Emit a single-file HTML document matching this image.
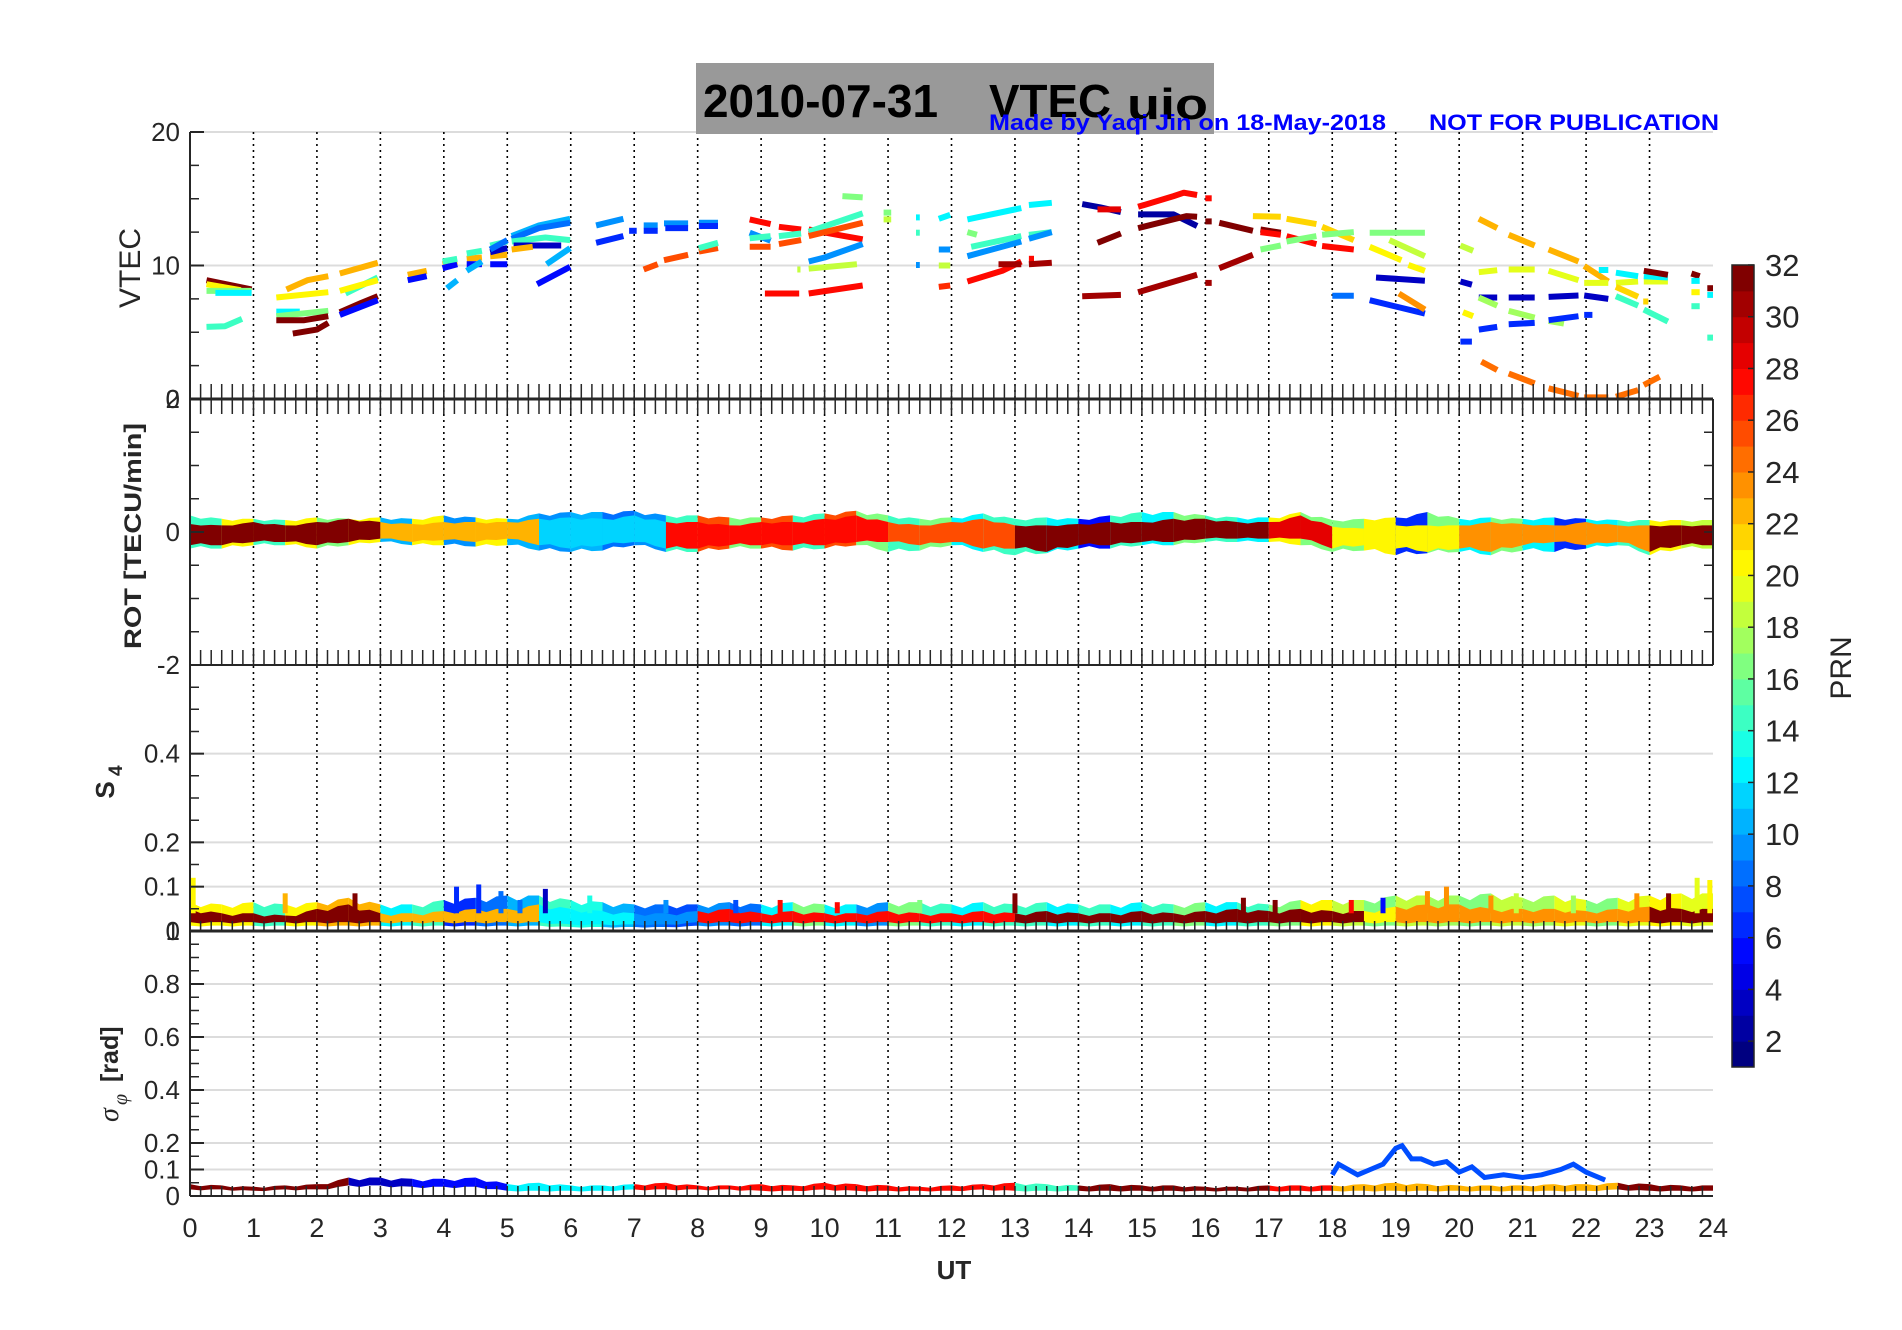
<!DOCTYPE html>
<html>
<head>
<meta charset="utf-8">
<style>
html,body{margin:0;padding:0;background:#fff;}
svg{display:block;font-family:"Liberation Sans",sans-serif;}
</style>
</head>
<body>
<svg id="fig" width="1902" height="1330" viewBox="0 0 1902 1330" xmlns="http://www.w3.org/2000/svg">
  <rect x="0" y="0" width="1902" height="1330" fill="#ffffff"/>
  <g id="grid"></g>
  <g id="marks"></g>
  <g id="axes"></g>
  <g id="cbar"></g>

  <rect x="696" y="63" width="518" height="71" fill="#999999"/>
  <text x="703" y="117" font-size="46" font-weight="bold" fill="#000" textLength="235" lengthAdjust="spacingAndGlyphs">2010-07-31</text>
  <text x="989" y="117" font-size="46" font-weight="bold" fill="#000" textLength="122" lengthAdjust="spacingAndGlyphs">VTEC</text>
  <text x="1127" y="119" font-size="44" font-weight="bold" fill="#000" textLength="81" lengthAdjust="spacingAndGlyphs">uio</text>
  <text x="989" y="130" font-size="22" font-weight="bold" fill="#0000ff" textLength="397" lengthAdjust="spacingAndGlyphs">Made by Yaqi Jin on 18-May-2018</text>
  <text x="1429" y="130" font-size="22" font-weight="bold" fill="#0000ff" textLength="290" lengthAdjust="spacingAndGlyphs">NOT FOR PUBLICATION</text>

  <text transform="translate(140,268) rotate(-90)" text-anchor="middle" font-size="30" fill="#262626">VTEC</text>
  <text transform="translate(141,536) rotate(-90)" text-anchor="middle" font-size="24" font-weight="bold" fill="#262626" textLength="226" lengthAdjust="spacingAndGlyphs">ROT [TECU/min]</text>
  <g transform="translate(114,790) rotate(-90)">
    <text x="0" y="0" text-anchor="middle" font-size="26" font-weight="bold" fill="#262626">S</text>
    <text x="14" y="8" font-size="19" font-weight="bold" fill="#262626">4</text>
  </g>
  <g transform="translate(118,1122) rotate(-90)">
    <text x="0" y="0" font-size="28" font-style="italic" fill="#262626" font-family="'Liberation Serif',serif">σ</text>
    <text x="17" y="9" font-size="20" font-style="italic" fill="#262626" font-family="'Liberation Serif',serif">φ</text>
    <text x="40" y="0" font-size="25" font-weight="bold" fill="#262626">[rad]</text>
  </g>
  <text x="954" y="1279" text-anchor="middle" font-size="26" font-weight="bold" fill="#262626">UT</text>
  <text transform="translate(1851,668) rotate(-90)" text-anchor="middle" font-size="30" fill="#262626">PRN</text>
</svg>

<script>
// ---------------- data ----------------
const hourTicks = [0,1,2,3,4,5,6,7,8,9,10,11,12,13,14,15,16,17,18,19,20,21,22,23,24];
const vtecTicks = [0,10,20];
const rotTicks = [-2,0,2];
const s4Ticks = [0,0.1,0.2,0.4];
const sigTicks = [0,0.1,0.2,0.4,0.6,0.8,1];
const cbarTicks = [2,4,6,8,10,12,14,16,18,20,22,24,26,28,30,32];

// VTEC arcs: PRN, times (h), values (TECU)
const arcPrn = [31,20,16,12,14,22,20,12,16,31,31,22,14,20,31,5,22,5,
 22,5,14,10, 22,5,14,10, 22,5,3,14,8, 10,8,14,3,22,10,5,
 9,6,6, 9,6,9,6,9,6, 25,25,25,14, 27,27,27, 9,14,14,14, 25,25,25, 27,27, 9, 18,18, 16, 16,18, 14,12,9, 12,9,18,26,
 12,12, 16, 14,14, 9,9, 27,27, 30,30, 2,28, 30, 31,
 27,27, 2, 31,31,31,31, 30,30,30, 27,27,27, 21,21,21, 16,16,16,16, 20,20, 18, 3, 8,6, 23,
 18,3,20,6, 22,22,22,22, 19,19,19,19,19,19, 3,3,3,3, 17,17,17, 6,6,6,6, 24,24,24,24,24,24,
 12,12,12, 21,21, 14,14, 31,31,31, 12,12, 20, 14,14];
const arcT = [[.26,.97],[.26,.8],[.26,.97],[.4,.97],[.26,.55,.82],[1.52,1.85,2.18],[1.36,2.18],[1.36,1.73],[1.36,2.18],[1.36,1.8,2.18],[1.62,2.0,2.18],[2.36,2.96],[2.45,2.96],[2.36,2.96],[2.36,2.7,2.96],[2.36,2.96],[3.43,3.73],[3.43,3.73],
 [3.98,4.21],[3.98,4.21],[3.98,4.21],[4.05,4.21], [4.36,4.6],[4.36,4.6],[4.36,4.6],[4.36,4.6], [4.73,5.0],[4.73,5.0],[4.73,5.0],[4.73,5.0],[4.73,5.0],
 [5.07,5.5,5.99],[5.07,5.5,5.99],[5.07,5.6,5.99],[5.1,5.85],[5.07,5.4],[5.62,5.99],[5.47,5.99],
 [6.40,6.83],[6.40,6.83],[6.92,7.04], [7.15,7.37],[7.15,7.37],[7.47,7.85],[7.49,7.85],[8.02,8.32],[8.02,8.32],
 [7.15,7.37],[7.47,7.85],[8.02,8.32],[8.02,8.32], [8.82,9.15],[9.28,9.63],[9.75,10.2,10.6],
 [8.82,9.15],[8.82,9.15],[9.28,9.63],[9.75,10.6], [8.82,9.15],[9.28,9.63],[9.75,10.6], [9.06,9.6],[9.75,10.6],
 [9.75,10.0,10.6], [9.57,9.62],[9.75,10.51], [10.28,10.6], [10.93,11.05],[10.93,11.05], [11.44,11.5],[11.44,11.5],[11.44,11.5],
 [11.8,11.98],[11.8,11.98],[11.8,11.98],[11.8,11.98],
 [12.25,13.1],[13.22,13.58], [12.25,12.4], [12.31,13.1],[13.22,13.58], [12.25,13.1],[13.22,13.58], [12.25,12.8,13.1],[13.22,13.3],
 [12.74,13.1],[13.22,13.58], [14.06,14.34,14.67],[14.3,14.67], [14.06,14.67], [14.3,14.67],
 [14.94,15.5,15.66,15.87],[16.0,16.1], [14.94,15.5,15.87], [14.94,15.7,15.87],[16.0,16.1],[16.22,16.75],[16.87,17.19],
 [14.94,15.87],[16.0,16.1],[16.22,16.75], [16.87,17.19],[17.28,17.75],[17.84,18.34], [16.75,17.19],[17.28,17.75],[17.84,18.34],
 [16.87,17.19],[17.28,17.75],[17.84,18.34],[18.59,19.46], [18.59,19.09],[19.2,19.46], [18.9,19.46], [18.69,19.46], [18.0,18.34],[18.59,19.46], [19.05,19.46],
 [20.02,20.22],[20.02,20.2],[20.06,20.22],[20.02,20.2], [20.31,20.6],[20.78,21.19],[21.41,21.88],[21.97,22.35],
 [20.31,20.6],[20.78,21.19],[21.41,21.88],[21.97,22.35],[22.47,22.82],[22.91,23.29],
 [20.31,20.6],[20.78,21.19],[21.41,21.88],[21.97,22.35], [20.31,20.6],[20.78,21.19],[21.41,21.65],
 [20.31,20.6],[20.78,21.19],[21.41,21.88],[21.97,22.1],
 [20.35,20.6],[20.78,21.19],[21.41,21.88],[21.97,22.35],[22.47,22.82],[22.91,23.16],
 [22.2,22.35],[22.47,22.82],[22.91,23.29], [22.47,22.82],[22.9,22.98], [22.47,22.82],[22.91,23.29],
 [22.91,23.29],[23.66,23.79],[23.91,24.0], [23.66,23.79],[23.91,24.0], [23.66,23.79], [23.66,23.79],[23.91,24.0]];
const arcV = [[8.9,8.2],[8.6,8.15],[8.1,8.1],[7.95,7.95],[5.4,5.45,6.0],[8.2,8.9,9.2],[7.6,8.0],[6.55,6.55],[6.2,6.6],[5.9,5.9,6.2],[4.9,5.2,5.7],[9.4,10.2],[7.9,9.1],[8.1,8.9],[6.5,7.2,7.7],[6.3,7.4],[9.3,9.6],[8.9,9.2],
 [10.1,10.3],[9.8,10.1],[10.3,10.5],[8.3,8.9], [10.5,10.6],[10.1,10.1],[10.9,11.1],[9.6,10.3], [10.7,10.8],[10.1,10.1],[11.0,11.3],[11.5,11.8],[11.2,11.9],
 [12.2,13.0,13.5],[12.0,12.8,13.2],[11.8,12.1,11.9],[11.5,11.5],[11.2,11.4],[10.1,11.3],[8.6,9.9],
 [13.0,13.5],[11.7,12.2],[12.6,12.6], [13.0,13.0],[12.6,12.6],[13.15,13.15],[12.8,12.8],[13.2,13.2],[12.96,12.96],
 [9.7,10.1],[10.4,10.8],[11.04,11.3],[11.3,11.7], [13.45,13.1],[12.9,12.7],[12.7,12.3,11.96],
 [12.46,11.86],[12.04,12.2],[12.2,12.4],[12.53,13.9], [11.4,11.4],[11.6,11.9],[12.2,13.2], [7.9,7.9],[7.9,8.5],
 [10.3,10.6,11.6], [9.7,9.7],[9.76,10.1], [15.2,15.1], [13.96,13.96],[13.45,13.45], [12.46,12.46],[13.6,13.6],[10.04,10.04],
 [13.5,13.8],[11.2,11.2],[10.0,10.0],[8.4,8.5],
 [13.45,14.3],[14.53,14.7], [12.5,12.3], [11.4,12.2],[12.3,12.5], [10.7,11.8],[12.0,12.5], [8.8,9.6,10.3],[10.5,10.5],
 [10.1,10.1],[10.1,10.2], [14.6,14.36,14.0],[14.2,14.2], [7.7,7.8], [11.7,12.4],
 [14.4,15.2,15.45,15.28],[15.03,15.03], [13.83,13.83,12.96], [12.8,13.7,13.65],[13.3,13.3],[13.2,12.6],[12.7,12.46],
 [8.0,9.3],[8.7,8.7],[9.8,10.8], [12.5,12.3],[12.2,11.6],[11.46,11.2], [13.7,13.65],[13.5,13.1],[12.9,11.9],
 [11.2,11.5],[11.8,12.2],[12.3,12.5],[12.46,12.46], [11.4,10.4],[10.04,9.6], [11.9,10.7], [9.1,8.86], [7.74,7.74],[7.4,6.4], [7.9,6.7],
 [11.5,11.1],[8.8,8.56],[6.5,6.2],[4.3,4.3], [13.5,12.8],[12.3,11.5],[11.2,10.3],[9.96,8.8],
 [9.5,9.65],[9.7,9.7],[9.6,8.9],[8.7,8.7],[8.7,8.8],[8.8,8.8],
 [7.6,7.6],[7.6,7.6],[7.65,7.75],[7.75,7.5], [7.6,7.0],[6.6,6.1],[5.85,5.65],
 [5.2,5.4],[5.6,5.7],[5.9,6.2],[6.3,6.3],
 [2.8,2.17],[1.9,1.17],[0.8,0.23],[0.12,0.12],[0.17,0.67],[1.05,1.67],
 [9.66,9.66],[9.46,9.2],[9.2,9.1], [8.4,7.66],[7.3,7.3], [7.7,7.0],[6.7,5.8],
 [9.6,9.3],[9.4,9.2],[8.3,8.3], [8.85,8.85],[7.8,7.8], [8.0,8.0], [6.95,6.95],[4.6,4.6]];

// ROT, per half-hour bin (48 bins)
const rotPrn = [31,31,31,31,31,31, 22,22,22,22,22, 11,11,11,11, 27,27,27,27,27,27,27, 25,25,25,25, 31,31,31,31,31,31,31,31, 28,28, 20,20,20,20, 23,23,23,23,23,23, 31,31];
const rotPrn2 = [14,20,14,20,16,20, 10,20,9,20,10, 9,10,8,9, 14,25,16,25,14,25,16, 14,16,12,14, 14,12,5,14,12,16,14,12, 20,16, 16,20,6,16, 12,16,12,6,12,14, 20,18];
const rotHi = [.12,.1,.15,.1,.15,.2, .15,.12,.15,.15,.15, .2,.22,.2,.25, .15,.15,.1,.15,.15,.2,.25, .15,.1,.15,.2, .1,.1,.12,.15,.15,.2,.2,.15, .15,.25, .08,.05,.1,.1, .1,.15,.12,.1,.15,.1, .1,.1];
const rotLo = [-.2,-.2,-.15,-.15,-.2,-.15, -.1,-.15,-.12,-.15,-.1, -.2,-.25,-.2,-.15, -.25,-.25,-.2,-.2,-.2,-.2,-.15, -.15,-.2,-.15,-.25, -.25,-.3,-.2,-.2,-.15,-.15,-.1,-.1, -.1,-.1, -.25,-.2,-.25,-.3, -.25,-.3,-.2,-.15,-.2,-.15, -.3,-.2];
const rotHi2 = [.25,.2,.2,.18,.22,.2, .22,.2,.25,.22,.2, .28,.3,.3,.32, .25,.25,.22,.22,.25,.28,.32, .25,.2,.22,.28, .2,.22,.2,.25,.3,.3,.25,.22, .22,.3, .18,.2,.22,.3, .2,.22,.2,.22,.2,.18, .18,.18];
const rotLo2 = [-.25,-.25,-.2,-.2,-.25,-.2, -.15,-.2,-.2,-.22,-.2, -.28,-.3,-.28,-.2, -.3,-.3,-.25,-.25,-.28,-.25,-.2, -.3,-.28,-.2,-.3, -.35,-.32,-.25,-.25,-.2,-.2,-.15,-.15, -.15,-.2, -.3,-.28,-.35,-.32, -.3,-.35,-.28,-.3,-.25,-.2, -.35,-.25];

// S4 per half-hour bin
const s4Prn = [31,31,31,31,31,31, 22,22,22,22,22, 12,12,12,9,9, 27,27,27,27,27,27,27,27,27,27, 31,31,31,31,31,31,31,31,31,31,31, 20,23,23,23,23,23,23,23,23, 31,31];
const s4Prn2 = [20,20,14,20,22,22, 12,14,6,8,10, 14,13,10,8,7, 9,8,12,16,12,9,16,14,12,14, 14,12,14,12,14,16,12,14,16,20,18, 16,18,17,16,18,17,19,16,19, 20,19];
const s4Hi = [.05,.04,.04,.035,.05,.06, .04,.04,.045,.05,.05, .06,.05,.045,.04,.04, .045,.05,.04,.045,.04,.04,.045,.04,.04,.045, .04,.045,.04,.04,.045,.04,.045,.05,.045,.05,.045, .045,.055,.06,.06,.05,.05,.05,.045,.05, .055,.05];
const s4Lo = [.02,.02,.02,.02,.02,.02, .02,.02,.02,.02,.02, .02,.015,.015,.015,.015, .02,.02,.02,.02,.02,.02,.02,.02,.02,.02, .02,.02,.02,.02,.02,.02,.02,.02,.02,.02,.02, .02,.02,.02,.02,.02,.02,.02,.02,.02, .02,.02];
const s4Hi2 = [.065,.06,.065,.06,.065,.075, .06,.06,.07,.075,.08, .08,.07,.065,.06,.06, .06,.065,.06,.065,.06,.06,.065,.065,.06,.065, .06,.065,.06,.06,.065,.06,.065,.065,.06,.07,.07, .07,.08,.08,.08,.085,.075,.08,.07,.075, .08,.085];
const s4SpkT = [0.05,1.5,2.6,4.2,4.55,4.9,5.2,5.6,6.3,7.5,8.6,9.3,10.2,11.5,13.0,16.6,17.1,18.3,18.8,19.5,19.8,20.5,20.9,21.8,22.8,23.3,23.75,23.95];
const s4SpkV = [0.12,0.085,0.085,0.1,0.105,0.09,0.07,0.095,0.08,0.07,0.07,0.07,0.065,0.07,0.085,0.075,0.07,0.07,0.075,0.09,0.1,0.08,0.085,0.08,0.085,0.085,0.12,0.115];
const s4SpkPrn = [20,22,31,6,6,8,8,3,13,9,7,27,27,16,31,31,31,27,5,23,23,23,18,17,23,31,19,20];

// sigma-phi per half-hour bin
const sigPrn = [31,31,31,31, 31,3,3,5,5,5, 12,12,12,12, 27,27,27,27,27,27,27,27,27,27,27,27, 14,14, 31,31,31,31,31,31, 27,27, 22,22,22,22,22,22,22,22,22, 31,31,31];
const sigHi = [.045,.04,.035,.04, .045,.07,.07,.065,.065,.07, .045,.05,.04,.04, .045,.05,.04,.04,.045,.04,.05,.045,.04,.035,.04,.045, .05,.045, .04,.045,.04,.04,.035,.035, .04,.04, .04,.045,.05,.045,.04,.04,.04,.045,.045, .05,.045,.04];
const sigLo = [.025,.025,.02,.025, .025,.04,.04,.035,.035,.035, .02,.02,.02,.02, .025,.025,.025,.025,.02,.02,.025,.02,.02,.02,.02,.025, .02,.02, .02,.02,.02,.02,.02,.02, .02,.02, .02,.02,.02,.02,.02,.02,.02,.02,.02, .025,.02,.02];
const sigBlueT = [18.0,18.1,18.4,18.6,18.8,18.9,19.0,19.1,19.25,19.4,19.6,19.8,20.0,20.2,20.4,20.7,21.0,21.3,21.6,21.8,22.0,22.3];
const sigBlueV = [0.08,0.12,0.08,0.1,0.12,0.15,0.18,0.19,0.14,0.14,0.12,0.13,0.09,0.11,0.07,0.08,0.07,0.08,0.1,0.12,0.09,0.06];

// ---------------- layout ----------------
const X0 = 190, X1 = 1713;
const P = {
  vtec:{top:132,bot:399,min:0,max:20},
  rot:{top:399,bot:665,min:-2,max:2},
  s4:{top:665,bot:931,min:0,max:0.6},
  sig:{top:931,bot:1196,min:0,max:1}
};
const xs = t => X0 + (X1-X0)*t/24;
const ys = (p,v) => p.bot - (p.bot-p.top)*(v-p.min)/(p.max-p.min);
const NS = 'http://www.w3.org/2000/svg';
function mk(tag, attrs, parent){
  const e = document.createElementNS(NS, tag);
  for (const k in attrs) e.setAttribute(k, attrs[k]);
  parent.appendChild(e);
  return e;
}
function jet(p){
  let x = Math.max(0, Math.min(1, (p-1)/30));
  const c = v => Math.round(255*Math.max(0, Math.min(1, v)));
  return 'rgb('+c(1.5-Math.abs(4*x-3))+','+c(1.5-Math.abs(4*x-2))+','+c(1.5-Math.abs(4*x-1))+')';
}
const grid = document.getElementById('grid');
const marks = document.getElementById('marks');
const axes = document.getElementById('axes');
const cbar = document.getElementById('cbar');

// horizontal gridlines
[[P.vtec,[10,20]],[P.s4,[0.1,0.2,0.4]],[P.sig,[0.1,0.2,0.4,0.6,0.8]]].forEach(([p,vals])=>{
  vals.forEach(v=>{
    const l = mk('line',{x1:X0,x2:X1,y1:ys(p,v),y2:ys(p,v),stroke:'#dcdcdc','stroke-width':2},grid);
    
    
  });
});
// hour dotted lines
hourTicks.forEach(h=>{
  if (h===0||h===24) return;
  const l = mk('line',{x1:xs(h),x2:xs(h),y1:P.vtec.top,y2:P.sig.bot,stroke:'#000','stroke-width':1.6,'stroke-dasharray':'2 4'},grid);
  
  
});

// VTEC arcs
arcPrn.forEach((prn,i)=>{
  const pts = arcT[i].map((t,j)=>xs(t).toFixed(1)+','+ys(P.vtec,arcV[i][j]).toFixed(1)).join(' ');
  const pl = mk('polyline',{points:pts,fill:'none',stroke:jet(prn),'stroke-width':6,'stroke-linejoin':'round'},marks);
  
  
});

// band helper
function band(p, prnArr, hiArr, loArr, name){
  for (let i=0;i<prnArr.length;i++){
    const t0=i*0.5, t1=t0+0.5;
    const hiN = i+1<hiArr.length ? hiArr[i+1] : hiArr[i];
    const loN = i+1<loArr.length ? loArr[i+1] : loArr[i];
    const pts = [xs(t0)+','+ys(p,hiArr[i]), xs(t0+0.17)+','+ys(p,(hiArr[i]*0.7+hiN*0.3)*0.85), xs(t0+0.33)+','+ys(p,hiArr[i]*0.4+hiN*0.6), xs(t1)+','+ys(p,hiN),
                 xs(t1)+','+ys(p,loN), xs(t0+0.33)+','+ys(p,loArr[i]*0.4+loN*0.6), xs(t0+0.17)+','+ys(p,(loArr[i]*0.7+loN*0.3)*0.85), xs(t0)+','+ys(p,loArr[i])].join(' ');
    const pg = mk('polygon',{points:pts,fill:jet(prnArr[i])},marks);
    
    
  }
}
band(P.rot, rotPrn2, rotHi2, rotLo2, 'rot-band-outer');
band(P.rot, rotPrn, rotHi, rotLo, 'rot-band');
const s4Base = s4Lo.map(v=>v*0.6);
band(P.s4, s4Prn2, s4Hi2, s4Base, 's4-band-outer');
band(P.s4, s4Prn, s4Hi, s4Lo, 's4-band');
s4SpkT.forEach((t,i)=>{
  const l = mk('line',{x1:xs(t),x2:xs(t),y1:ys(P.s4,0.04),y2:ys(P.s4,s4SpkV[i]),stroke:jet(s4SpkPrn[i]),'stroke-width':5},marks);
  
  
});
band(P.sig, sigPrn, sigHi, sigLo, 'sigma-band');
const bl = mk('polyline',{points:sigBlueT.map((t,i)=>xs(t)+','+ys(P.sig,sigBlueV[i])).join(' '),fill:'none',stroke:jet(7),'stroke-width':5},marks);



// axes
const AX = '#262626';
function hline(y,w,name){
  const l = mk('line',{x1:X0,x2:X1,y1:y,y2:y,stroke:AX,'stroke-width':w},axes);
  
  
}
hline(P.vtec.bot,3,'vtec-x-axis');
hline(P.rot.bot,2,'rot-x-axis');
hline(P.s4.bot,3,'s4-x-axis');
hline(P.sig.bot,2,'sigma-x-axis');
const yl = mk('line',{x1:X0,x2:X0,y1:P.vtec.top,y2:P.sig.bot,stroke:AX,'stroke-width':2},axes);


const rr = mk('line',{x1:X1,x2:X1,y1:P.rot.top,y2:P.rot.bot,stroke:AX,'stroke-width':2},axes);



// minor x ticks (10 min)
let mt = '';
for (let k=1;k<144;k++){
  const x = xs(k/6).toFixed(1);
  mt += 'M'+x+' '+P.vtec.bot+'v-15M'+x+' '+P.rot.top+'v15M'+x+' '+P.rot.bot+'v-15M'+x+' '+P.s4.bot+'v-10M'+x+' '+P.sig.bot+'v-10';
}
const mtp = mk('path',{d:mt,stroke:AX,'stroke-width':1.5,fill:'none'},axes);



// y minor ticks
let yt = '';
[[P.vtec,2.5],[P.rot,0.5],[P.s4,0.05],[P.sig,0.05]].forEach(([p,st])=>{
  for (let v=p.min+st; v<p.max-1e-9; v+=st){
    yt += 'M'+X0+' '+ys(p,v).toFixed(1)+'h9';
    if (p===P.rot) yt += 'M'+X1+' '+ys(p,v).toFixed(1)+'h-9';
  }
});
const ytp = mk('path',{d:yt,stroke:AX,'stroke-width':1.5,fill:'none'},axes);



// tick labels
function ylab(p,vals,fmt,name){
  vals.forEach(v=>{
    const t = mk('text',{x:180,y:ys(p,v)+9,'text-anchor':'end','font-size':26,fill:AX},axes);
    t.textContent = fmt(v);
    
    
    const tk = mk('line',{x1:X0,x2:X0+14,y1:ys(p,v),y2:ys(p,v),stroke:AX,'stroke-width':2},axes);
    
    
  });
}
ylab(P.vtec,vtecTicks,v=>String(v),'vtec-tick-label');
ylab(P.rot,rotTicks,v=>String(v),'rot-tick-label');
ylab(P.s4,s4Ticks,v=>String(v),'s4-tick-label');
ylab(P.sig,sigTicks,v=>String(v),'sigma-tick-label');
hourTicks.forEach(h=>{
  const t = mk('text',{x:xs(h),y:1237,'text-anchor':'middle','font-size':27,fill:AX},axes);
  t.textContent = String(h);
  
  
});

// colorbar
const CB = {x:1732,w:22,top:265,bot:1067,min:1,max:32};
const cy = v => CB.bot - (CB.bot-CB.top)*(v-CB.min)/(CB.max-CB.min);
for (let k=1;k<32;k++){
  const r = mk('rect',{x:CB.x,y:cy(k+1),width:CB.w,height:cy(k)-cy(k+1)+0.5,fill:jet(k)},cbar);
  
  
}
const cbo = mk('rect',{x:CB.x,y:CB.top,width:CB.w,height:CB.bot-CB.top,fill:'none',stroke:AX,'stroke-width':1.5},cbar);


cbarTicks.forEach(v=>{
  const l = mk('line',{x1:CB.x+CB.w-6,x2:CB.x+CB.w,y1:cy(v),y2:cy(v),stroke:AX,'stroke-width':1.5},cbar);
  
  
  const t = mk('text',{x:1765,y:cy(v)+11,'font-size':31,fill:AX},cbar);
  t.textContent = String(v);
  
  
});
</script>
</body>
</html>
